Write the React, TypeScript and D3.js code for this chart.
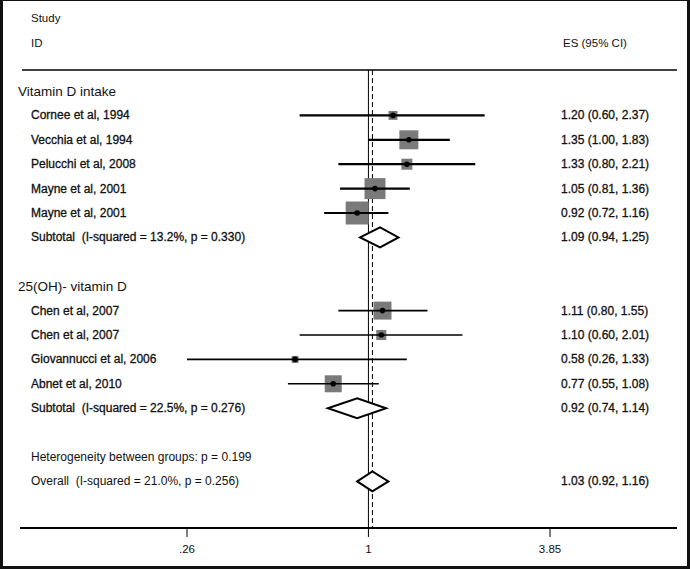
import React from "react";
import * as d3 from "d3";

// ---- Data ----
const group1Label = "Vitamin D intake";
const group1Studies = [
  "Cornee et al, 1994",
  "Vecchia et al, 1994",
  "Pelucchi et al, 2008",
  "Mayne et al, 2001",
  "Mayne et al, 2001",
];
const group1ES = [1.2, 1.35, 1.33, 1.05, 0.92];
const group1Lo = [0.6, 1.0, 0.8, 0.81, 0.72];
const group1Hi = [2.37, 1.83, 2.21, 1.36, 1.16];
const group1Weights = [3.5, 15.7, 5.3, 19.2, 23.1];
const group1Subtotal = { label: "Subtotal  (I-squared = 13.2%, p = 0.330)", es: 1.09, lo: 0.94, hi: 1.25, heavy: true };

const group2Label = "25(OH)- vitamin D";
const group2Studies = [
  "Chen et al, 2007",
  "Chen et al, 2007",
  "Giovannucci et al, 2006",
  "Abnet et al, 2010",
];
const group2ES = [1.11, 1.1, 0.58, 0.77];
const group2Lo = [0.8, 0.6, 0.26, 0.55];
const group2Hi = [1.55, 2.01, 1.33, 1.08];
const group2Weights = [14.1, 4.4, 2.1, 12.6];
const group2Subtotal = { label: "Subtotal  (I-squared = 22.5%, p = 0.276)", es: 0.92, lo: 0.74, hi: 1.14, heavy: true };

const heterogeneityLabel = "Heterogeneity between groups: p = 0.199";
const overall = { label: "Overall  (I-squared = 21.0%, p = 0.256)", es: 1.03, lo: 0.92, hi: 1.16, heavy: false };

const tickValues = [0.26, 1, 3.85];
const tickLabels = [".26", "1", "3.85"];

const fmt = (v: number) => v.toFixed(2);
const esText = (es: number, lo: number, hi: number) => `${fmt(es)} (${fmt(lo)}, ${fmt(hi)})`;

type Row =
  | { kind: "header"; label: string }
  | { kind: "study"; label: string; es: number; lo: number; hi: number; w: number; lw: number }
  | { kind: "diamond"; label: string; es: number; lo: number; hi: number; heavy: boolean }
  | { kind: "text"; label: string }
  | { kind: "blank" };

const rows: Row[] = [
  { kind: "header", label: group1Label },
  ...group1Studies.map((s, i) => ({ kind: "study" as const, label: s, es: group1ES[i], lo: group1Lo[i], hi: group1Hi[i], w: group1Weights[i], lw: 2.2 })),
  { kind: "diamond", ...group1Subtotal },
  { kind: "blank" },
  { kind: "header", label: group2Label },
  ...group2Studies.map((s, i) => ({ kind: "study" as const, label: s, es: group2ES[i], lo: group2Lo[i], hi: group2Hi[i], w: group2Weights[i], lw: 1.6 })),
  { kind: "diamond", ...group2Subtotal },
  { kind: "blank" },
  { kind: "text", label: heterogeneityLabel },
  { kind: "diamond", ...overall },
];

const W = 690;
const H = 569;
const FONT = "'Liberation Sans', Arial, sans-serif";

const txt: React.CSSProperties = { whiteSpace: "pre" };

export default function App() {
  const x = d3.scaleLog().domain([0.26, 3.85]).range([187, 550]);
  const rowY = (k: number) => 91 + 24.4 * k;
  const allW = [...group1Weights, ...group2Weights];
  const size = d3.scaleSqrt().domain([0, d3.max(allW) as number]).range([0, 23]);

  const topLine = 70;
  const axisY = 528;
  const labelX = 31;
  const esX = 561;
  const halfD = 10;
  const heavy = { stroke: "#111", strokeWidth: 0.3 };

  return (
    <div style={{ position: "absolute", left: 0, top: 0 }}>
      <svg width={W} height={H} style={{ display: "block", fontFamily: FONT }}>
        <rect x={0} y={0} width={W} height={H} fill="#fff" />
        {/* header */}
        <text x={labelX} y={18} fontSize={11.5} dominantBaseline="central" fill="#111">Study</text>
        <text x={labelX} y={43} fontSize={11.5} dominantBaseline="central" fill="#111">ID</text>
        <text x={esX + 2} y={43} fontSize={11.5} dominantBaseline="central" fill="#111">ES (95% CI)</text>
        <line x1={22} x2={677} y1={topLine} y2={topLine} stroke="#000" strokeWidth={1.5} />

        {/* reference lines */}
        <line x1={x(1)} x2={x(1)} y1={topLine} y2={axisY} stroke="#000" strokeWidth={1} />
        <line x1={x(overall.es)} x2={x(overall.es)} y1={topLine} y2={axisY} stroke="#000" strokeWidth={1} strokeDasharray="5,3" />

        {rows.map((r, k) => {
          const y = rowY(k);
          if (r.kind === "blank") return null;
          if (r.kind === "header")
            return (
              <text key={k} x={18} y={y} fontSize={13.5} dominantBaseline="central" fill="#111">{r.label}</text>
            );
          if (r.kind === "text")
            return (
              <text key={k} x={labelX} y={y} fontSize={12} dominantBaseline="central" fill="#111" style={txt}>{r.label}</text>
            );
          if (r.kind === "study") {
            const s = size(r.w);
            return (
              <g key={k}>
                <text x={labelX} y={y} fontSize={12} dominantBaseline="central" fill="#111" {...heavy}>{r.label}</text>
                <rect x={x(r.es) - s / 2} y={y - s / 2} width={s} height={s} fill="#7a7a7a" />
                <line x1={x(r.lo)} x2={x(r.hi)} y1={y} y2={y} stroke="#000" strokeWidth={r.lw} />
                <circle cx={x(r.es)} cy={y} r={2.8} fill="#000" />
                <text x={esX} y={y} fontSize={12} dominantBaseline="central" fill="#111" {...heavy}>{esText(r.es, r.lo, r.hi)}</text>
              </g>
            );
          }
          const pts = [
            [x(r.lo), y],
            [x(r.es), y - halfD],
            [x(r.hi), y],
            [x(r.es), y + halfD],
          ];
          return (
            <g key={k}>
              <text x={labelX} y={y} fontSize={12} dominantBaseline="central" fill="#111" style={txt} {...(r.heavy ? heavy : {})}>{r.label}</text>
              <polygon points={pts.map((p) => p.join(",")).join(" ")} fill="#fff" stroke="#000" strokeWidth={2} strokeLinejoin="miter" />
              <text x={esX} y={y} fontSize={12} dominantBaseline="central" fill="#111" {...heavy}>{esText(r.es, r.lo, r.hi)}</text>
            </g>
          );
        })}

        {/* x axis */}
        <line x1={20} x2={677} y1={axisY} y2={axisY} stroke="#000" strokeWidth={2} />
        {tickValues.map((t, i) => (
          <g key={i}>
            <line x1={x(t)} x2={x(t)} y1={axisY} y2={axisY + 9} stroke="#000" strokeWidth={1} />
            <text x={x(t)} y={axisY + 21} fontSize={11.5} textAnchor="middle" dominantBaseline="central" fill="#111">{tickLabels[i]}</text>
          </g>
        ))}

        {/* frame */}
        <rect x={0} y={0} width={3} height={H} fill="#111" />
        <rect x={W - 3} y={0} width={3} height={H} fill="#111" />
        <rect x={0} y={H - 3} width={W} height={3} fill="#111" />
        <rect x={0} y={0} width={W} height={1} fill="#111" />
      </svg>
    </div>
  );
}
